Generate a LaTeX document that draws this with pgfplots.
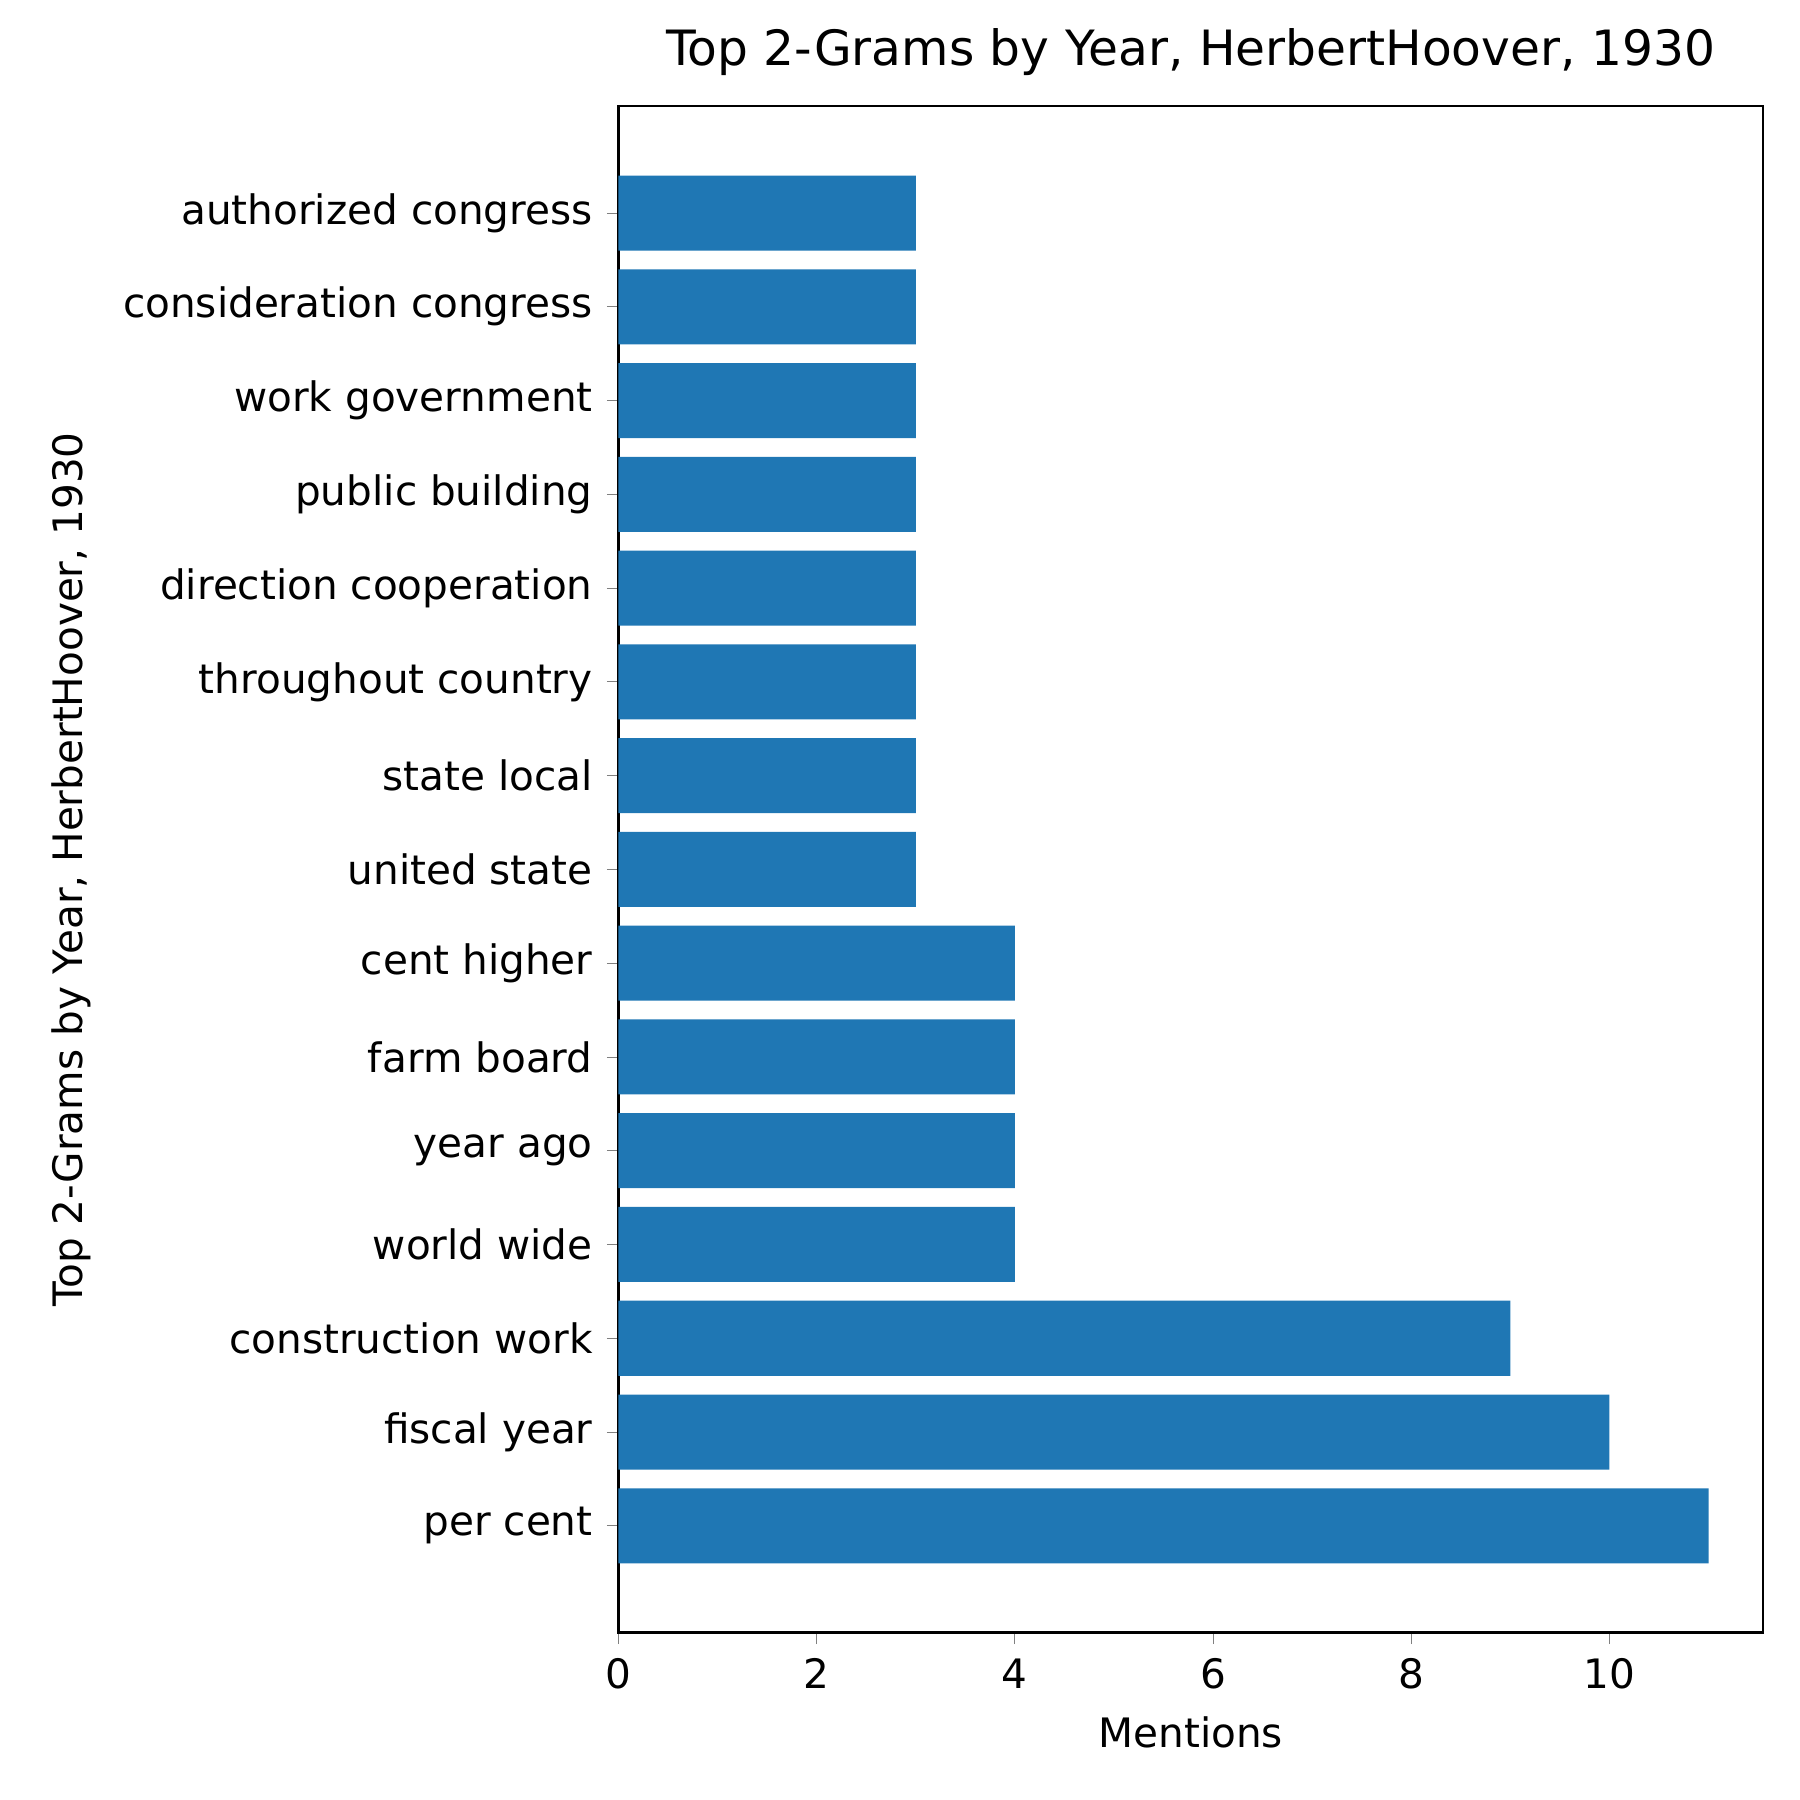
\documentclass[border=0pt]{standalone}
\usepackage{pgfplots}
\pgfplotsset{compat=1.18}
\usepackage{fontspec}
\setmainfont{DejaVu Sans}
\definecolor{bar}{RGB}{31,119,180}
\begin{document}
\begin{tikzpicture}
\useasboundingbox (-5.36,-1.45) rectangle (10.24,14.15);
\begin{axis}[at={(0,0)},anchor=south west,scale only axis,width=9.92cm,height=13.23cm,
  xbar, bar width=0.8, bar shift=0pt,
  xmin=0,xmax=11.55,ymin=-1.14,ymax=15.14,
  ytick={0,...,14},
  yticklabels={per cent,fiscal year,construction work,world wide,year ago,farm board,cent higher,united state,state local,throughout country,direction cooperation,public building,work government,consideration congress,authorized congress},
  xtick={0,2,4,6,8,10},
  tick align=outside, tick pos=left, major tick length=0.1cm,
  ticklabel style={font=\fontsize{10}{12}\selectfont},
  /pgf/number format/assume math mode=true,
  xlabel={Mentions}, ylabel={Top 2-Grams by Year, HerbertHoover, 1930},
  label style={font=\fontsize{10}{12}\selectfont},
  ylabel style={at={(rel axis cs:0,0.5)},anchor=south,xshift=0pt,yshift=4.45cm},
  title={Top 2-Grams by Year, HerbertHoover, 1930},
  title style={font=\fontsize{12}{14}\selectfont,yshift=-2pt},
  axis line style={line width=0.6pt}]
\addplot[fill=bar,draw=none] coordinates {(11,0)(10,1)(9,2)(4,3)(4,4)(4,5)(4,6)(3,7)(3,8)(3,9)(3,10)(3,11)(3,12)(3,13)(3,14)};
\end{axis}
\end{tikzpicture}
\end{document}
